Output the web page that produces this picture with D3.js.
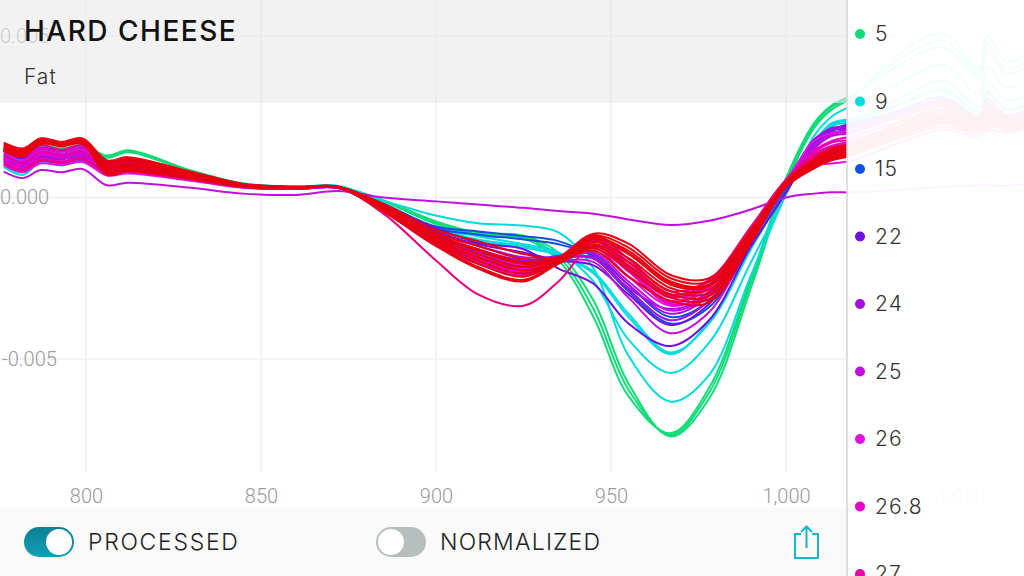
<!DOCTYPE html>
<html><head><meta charset="utf-8">
<script src="https://cdnjs.cloudflare.com/ajax/libs/d3/7.8.5/d3.min.js"></script>
<style>html,body{margin:0;padding:0;background:#fff;overflow:hidden}svg{display:block}</style>
</head><body><svg id="c" width="1024" height="576"></svg>
<script>
const title = "HARD CHEESE", subtitle = "Fat";
const toggleLabels = ["PROCESSED", "NORMALIZED"];
const legendLabels = ["5","9","15","22","24","25","26","26.8","27"];
const legendColors = ["#0fdc78","#00dcdc","#1050e0","#7010e0","#a010e0","#c010e0","#e010e0","#e800c8","#e800a8"];
const xTicks = [800,850,900,950,1000,1050];
const yTicks = [0.005,0,-0.005];
const wavelengths = [776.5,782,787,793,799,806,812,830,845,860,872,885,900,912,925,935,945,955,967,978,990,1000,1008,1013,1019,1030,1045,1055,1057.5,1063,1072];
// absorbance values, in thousandths
const g1=[1.55,1.30,1.60,1.52,1.62,1.30,1.46,.84,.43,.33,.34,-.09,-.74,-1.09,-1.18,-1.71,-3.19,-5.76,-7.40,-6.23,-2.79,.40,2.15,2.72,3.10,4.25,5.08,4.0,5.0,4.2,4.6];
const g2=[1.50,1.25,1.56,1.48,1.58,1.26,1.43,.82,.42,.33,.34,-.11,-.78,-1.14,-1.22,-1.83,-3.45,-5.95,-7.35,-6.05,-2.62,.50,2.22,2.8,3.14,4.1,4.85,3.85,4.75,4.0,4.4];
const g3=[1.46,1.22,1.53,1.45,1.55,1.23,1.40,.80,.41,.32,.33,-.12,-.82,-1.18,-1.26,-1.95,-3.7,-6.15,-7.30,-5.9,-2.5,.6,2.3,2.85,3.18,3.95,4.65,3.7,4.55,3.85,4.25];
const c1=[.95,.70,1.10,1.0,1.12,.72,.82,.58,.35,.30,.34,-.10,-.56,-.80,-.87,-1.08,-2.2,-4.9,-6.32,-5.5,-2.4,.1,1.9,2.5,2.85,3.4,4.1,3.2,4.05,3.4,3.75];
const c2=[1.0,.78,1.2,1.1,1.2,.8,.9,.62,.38,.31,.34,-.2,-.95,-1.2,-1.45,-1.7,-2.6,-4.4,-5.43,-4.5,-2.0,.1,1.7,2.3,2.45,2.95,3.6,2.8,3.55,3.0,3.3];
const c3=[1.25,1.0,1.35,1.3,1.4,.95,1.0,.72,.42,.33,.36,-.18,-.95,-1.3,-1.5,-1.75,-2.3,-3.6,-4.8,-3.9,-1.6,.25,1.6,2.2,2.35,2.75,3.3,2.6,3.25,2.7,3.0];
const c4=[1.3,1.05,1.42,1.35,1.45,1.0,1.05,.75,.43,.33,.36,-.2,-1.0,-1.35,-1.55,-1.8,-2.35,-3.7,-4.85,-3.85,-1.55,.3,1.65,2.25,2.4,2.8,3.35,2.65,3.3,2.75,3.05];
const b1=[1.15,.9,1.2,1.18,1.28,.82,.9,.62,.36,.3,.33,-.2,-.9,-1.05,-1.2,-1.35,-1.85,-2.9,-3.9,-3.4,-1.5,.2,1.6,2.05,2.25,2.6,3.1,2.5,3.05,2.55,2.85];
const b2=[1.3,1.05,1.3,1.25,1.35,.9,.95,.68,.38,.3,.33,-.22,-.95,-1.15,-1.3,-1.45,-1.8,-2.7,-3.7,-3.2,-1.35,.3,1.55,1.95,2.15,2.5,3.0,2.45,2.95,2.5,2.8];
const v1=[1.2,.95,1.25,1.2,1.3,.85,.95,.66,.37,.28,.31,-.25,-.95,-1.4,-1.6,-2.2,-2.67,-3.9,-4.6,-3.8,-1.5,.15,1.55,2.1,2.1,2.45,2.95,2.4,2.9,2.45,2.75];
const v2=[1.45,1.2,1.5,1.35,1.5,1.0,1.1,.7,.38,.28,.31,-.25,-1.05,-1.45,-1.7,-1.95,-2.1,-3.0,-3.95,-3.3,-1.25,.35,1.7,2.1,2.3,2.6,3.1,2.5,3.05,2.55,2.85];
const a1=[1.35,1.1,1.42,1.32,1.45,.95,1.05,.7,.38,.28,.31,-.3,-1.1,-1.5,-1.85,-1.85,-1.9,-2.85,-3.8,-3.2,-1.2,.4,1.75,2.15,2.2,2.55,3.0,2.45,2.95,2.5,2.8];
const a2=[1.1,.88,1.15,1.1,1.2,.78,.85,.6,.35,.27,.3,-.3,-1.15,-1.6,-1.95,-1.8,-1.75,-2.7,-3.6,-3.05,-1.15,.42,1.8,2.1,2.15,2.5,2.95,2.4,2.9,2.45,2.75];
const a3=[1.5,1.25,1.55,1.42,1.55,1.05,1.12,.72,.38,.28,.31,-.3,-1.2,-1.7,-2.0,-1.9,-1.85,-2.8,-3.45,-2.95,-1.1,.45,1.7,2.0,2.1,2.45,2.9,2.35,2.85,2.4,2.7];
const f1=[.8,.6,.85,.78,.88,.38,.46,.3,.12,.08,.2,.0,-.12,-.22,-.32,-.42,-.5,-.68,-.85,-.72,-.37,.0,.12,.16,.16,.22,.33,.38,.38,.36,.45];
const p1=[1.05,.82,1.12,1.05,1.15,.72,.8,.56,.32,.26,.29,-.32,-1.2,-1.65,-2.0,-1.95,-2.0,-3.1,-4.2,-3.55,-1.35,.35,1.5,1.9,2.0,2.4,2.85,2.3,2.8,2.35,2.65];
const p2=[1.2,1.0,1.3,1.2,1.32,.85,.92,.62,.34,.27,.3,-.32,-1.25,-1.75,-2.05,-1.9,-1.7,-2.6,-3.5,-3.0,-1.1,.45,1.6,1.95,2.05,2.4,2.85,2.3,2.8,2.35,2.65];
const m1=[1.1,.9,1.18,1.1,1.22,.76,.83,.58,.34,.27,.3,-.35,-1.3,-1.8,-2.1,-1.95,-1.55,-2.45,-3.35,-2.9,-1.05,.5,1.75,2.0,2.1,2.45,2.85,2.3,2.8,2.35,2.65];
const m2=[1.4,1.15,1.45,1.35,1.48,.98,1.05,.68,.36,.27,.3,-.35,-1.35,-1.85,-2.2,-1.95,-1.45,-2.3,-3.25,-2.8,-1.0,.5,1.3,1.5,1.65,2.0,2.4,2.05,2.4,2.1,2.4];
const m3=[1.0,.78,1.05,1.0,1.1,.68,.74,.52,.3,.26,.3,-.38,-1.4,-1.9,-2.25,-1.9,-1.35,-2.2,-3.2,-2.75,-.95,.52,1.0,1.05,1.15,1.6,2.1,1.9,2.1,2.0,2.25];
const n1=[1.25,1.0,1.35,1.25,1.38,.88,.95,.62,.34,.27,.3,-.38,-1.35,-1.9,-2.3,-1.95,-1.3,-2.15,-3.1,-2.7,-.95,.5,1.35,1.6,1.75,2.1,2.5,2.1,2.5,2.15,2.45];
const n2=[1.48,1.25,1.52,1.42,1.55,1.02,1.1,.7,.36,.28,.31,-.4,-1.45,-1.95,-2.3,-1.9,-1.2,-2.0,-3.0,-2.6,-.95,.55,1.45,1.75,1.9,2.25,2.65,2.2,2.6,2.25,2.55];
const n3=[1.15,.92,1.22,1.12,1.25,.8,.86,.58,.32,.27,.31,-.4,-1.4,-2.0,-2.35,-1.95,-1.25,-2.25,-3.3,-2.95,-1.15,.42,1.25,1.5,1.65,2.0,2.4,2.05,2.4,2.1,2.4];
const o1=[1.3,1.08,1.4,1.3,1.42,.92,1.0,.64,.35,.28,.31,-.42,-1.5,-2.05,-2.4,-1.95,-1.25,-2.1,-3.05,-2.75,-1.0,.5,1.4,1.7,1.8,2.15,2.55,2.15,2.5,2.2,2.5];
const o2=[1.05,.85,1.15,1.08,1.2,.75,.8,.55,.32,.27,.31,-.5,-1.95,-3.0,-3.35,-2.6,-1.5,-2.2,-3.0,-2.7,-1.0,.45,1.2,1.45,1.6,1.95,2.35,2.0,2.35,2.05,2.35];
const o3=[1.55,1.35,1.62,1.48,1.62,1.08,1.18,.72,.37,.28,.31,-.42,-1.35,-1.85,-2.15,-1.85,-1.15,-1.9,-2.9,-2.55,-.9,.55,1.3,1.55,1.7,2.05,2.45,2.1,2.45,2.1,2.4];
const r1=[1.67,1.5,1.83,1.72,1.83,1.15,1.25,.8,.42,.33,.33,-.2,-1.0,-1.35,-1.75,-1.85,-1.12,-1.43,-2.4,-2.5,-1.0,.5,1.2,1.5,1.67,2.2,3.0,2.5,2.9,2.5,2.8];
const r2=[1.62,1.45,1.80,1.70,1.80,1.05,1.18,.76,.41,.33,.33,-.25,-1.1,-1.5,-1.9,-1.85,-1.18,-1.55,-2.5,-2.6,-1.05,.48,1.15,1.45,1.6,2.1,2.85,2.4,2.8,2.4,2.7];
const r3=[1.58,1.42,1.78,1.68,1.78,.98,1.12,.74,.40,.32,.33,-.3,-1.2,-1.65,-2.05,-1.9,-1.25,-1.65,-2.6,-2.7,-1.1,.45,1.1,1.4,1.55,2.05,2.75,2.35,2.7,2.35,2.65];
const r4=[1.55,1.38,1.75,1.66,1.75,.92,1.05,.72,.38,.31,.33,-.32,-1.25,-1.75,-2.15,-1.9,-1.3,-1.75,-2.7,-2.75,-1.15,.42,1.05,1.35,1.5,2.0,2.65,2.3,2.6,2.3,2.6];
const r5=[1.52,1.35,1.73,1.64,1.73,.86,1.0,.7,.37,.3,.32,-.35,-1.3,-1.85,-2.25,-1.95,-1.38,-1.88,-2.8,-2.85,-1.2,.4,1.0,1.3,1.45,1.95,2.55,2.25,2.5,2.25,2.55];
const r6=[1.5,1.32,1.7,1.62,1.71,.8,.95,.68,.36,.3,.32,-.38,-1.35,-1.95,-2.35,-1.98,-1.45,-2.0,-2.9,-2.95,-1.25,.38,.98,1.25,1.42,1.9,2.45,2.2,2.45,2.2,2.5];
const r7=[1.48,1.3,1.68,1.6,1.69,.76,.9,.65,.35,.29,.32,-.4,-1.4,-2.05,-2.45,-2.0,-1.52,-2.12,-3.0,-3.05,-1.3,.36,.95,1.22,1.38,1.85,2.35,2.15,2.35,2.2,2.45];
const r8=[1.46,1.28,1.68,1.58,1.67,.72,.86,.62,.34,.29,.32,-.42,-1.45,-2.15,-2.55,-2.02,-1.58,-2.25,-3.1,-3.15,-1.35,.34,.92,1.18,1.34,1.8,2.3,2.1,2.3,2.15,2.4];
const r9=[1.44,1.26,1.66,1.6,1.68,.7,.82,.58,.33,.28,.32,-.44,-1.5,-2.2,-2.6,-2.05,-1.65,-2.45,-3.2,-3.25,-1.4,.32,.9,1.15,1.3,1.75,2.2,2.0,2.2,2.15,2.35];
const r10=[1.7,1.52,1.82,1.7,1.82,1.1,1.2,.78,.41,.32,.33,-.28,-1.15,-1.6,-2.0,-1.88,-1.22,-1.72,-2.65,-2.72,-1.12,.44,1.08,1.38,1.52,2.0,2.7,2.3,2.65,2.3,2.6];
const seriesLabels = [g1,g2,g3].map(()=>"5").concat([c1,c2,c3,c4].map(()=>"9"),[b1,b2].map(()=>"15"),[v1,v2].map(()=>"22"),[a1,a2,a3].map(()=>"24"),[f1,p1,p2].map(()=>"25"),[m1,m2,m3].map(()=>"26"),[n1,n2,n3].map(()=>"26.8"),[o1].map(()=>"27"));
const pinkCurves = [o2,o3], redCurves = [r1,r2,r3,r4,r5,r6,r7,r8,r9,r10];
const mainCurves = [g1,g2,g3,c1,c2,c3,c4,b1,b2,v1,v2,a1,a2,a3,f1,p1,p2,m1,m2,m3,n1,n2,n3,o1];
const pinkColor = "#e6007a", redColor = "#e60012";

const svg = d3.select("#c");
const x = d3.scaleLinear().domain([800,1050]).range([86,961]);
const y = d3.scaleLinear().domain([0.005,-0.005]).range([36,359]);
const FONT = "Roboto, sans-serif";

// grid
svg.append("g").selectAll("line").data(xTicks).join("line")
  .attr("x1",d=>x(d)).attr("x2",d=>x(d)).attr("y1",0).attr("y2",472)
  .attr("stroke","#f3f3f3").attr("stroke-width",2);
svg.append("g").selectAll("line").data(yTicks).join("line")
  .attr("x1",0).attr("x2",1024).attr("y1",d=>y(d)).attr("y2",d=>y(d))
  .attr("stroke","#f3f3f3").attr("stroke-width",2);

// axes (labels only)
const axB = svg.append("g").attr("transform","translate(0,486)")
  .call(d3.axisBottom(x).tickValues(xTicks).tickSize(0).tickPadding(3).tickFormat(d3.format(",")));
const axL = svg.append("g")
  .call(d3.axisLeft(y).tickValues(yTicks).tickSize(0).tickFormat(d=>d3.format(".3f")(d).replace("\u2212","-")));
axB.select(".domain").remove(); axL.select(".domain").remove();
[axB,axL].forEach(a=>a.selectAll("text").attr("font-family",FONT).attr("font-weight",300).attr("font-size",20).attr("fill","#999"));
axL.selectAll("text").attr("text-anchor","start").attr("x",d=>d<0?2:0).attr("dy","0.32em");

// curves
const line = d3.line().x((d,i)=>x(wavelengths[i])).y(d=>y(d/1000)).curve(d3.curveCatmullRom.alpha(0.5));
const colorOf = d3.scaleOrdinal().domain(legendLabels).range(legendColors);
const curves = mainCurves.map((v,i)=>({v,c:colorOf(seriesLabels[i])}))
  .concat(pinkCurves.map(v=>({v,c:pinkColor})), redCurves.map(v=>({v,c:redColor})));
svg.append("g").attr("fill","none").attr("stroke-width",2).attr("stroke-linejoin","round")
  .selectAll("path").data(curves).join("path")
  .attr("d",d=>line(d.v)).attr("stroke",d=>d.c);

// header
svg.append("rect").attr("x",0).attr("y",0).attr("width",847).attr("height",103).attr("fill","#e9e9e9").attr("fill-opacity",0.6);
svg.append("text").attr("x",24).attr("y",41).text(title).attr("font-family","Inter, sans-serif").attr("font-weight",500).attr("font-size",28).attr("letter-spacing",1.5).attr("fill","#111");
svg.append("text").attr("x",24).attr("y",84).text(subtitle).attr("font-family","Inter, sans-serif").attr("font-weight",300).attr("font-size",21).attr("letter-spacing",1).attr("fill","#333");

// footer
svg.append("rect").attr("x",0).attr("y",508).attr("width",847).attr("height",68).attr("fill","#fafafa");
const defs = svg.append("defs");
const grad = defs.append("linearGradient").attr("id","tg").attr("x1",0).attr("y1",0).attr("x2",0).attr("y2",1);
grad.append("stop").attr("offset",0).attr("stop-color","#0c7f92");
grad.append("stop").attr("offset",1).attr("stop-color","#11a0b8");
const toggles = [{x:24,on:true},{x:376,on:false}];
toggles.forEach((t,i)=>{
  svg.append("rect").attr("x",t.x).attr("y",527).attr("width",50).attr("height",30).attr("rx",15)
    .attr("fill",t.on?"url(#tg)":"#b6bfbd");
  svg.append("circle").attr("cx",t.on?t.x+35:t.x+15).attr("cy",542).attr("r",13).attr("fill","#fff");
  svg.append("text").attr("x",t.x+64).attr("y",550).text(toggleLabels[i])
    .attr("font-family","Inter, sans-serif").attr("font-weight",300).attr("font-size",23).attr("letter-spacing",i?1.2:1.7).attr("fill","#222");
});
// share icon
const icon = svg.append("g").attr("fill","none").attr("stroke","#1fb2cc").attr("stroke-width",2);
icon.append("path").attr("d","M801 534H795V558H818V534H812");
icon.append("path").attr("d","M806.5 548V527M801 532L806.5 526.5L812 532");

// legend panel
svg.append("rect").attr("x",847).attr("y",0).attr("width",177).attr("height",576).attr("fill","#fff").attr("fill-opacity",0.95);
svg.append("line").attr("x1",847).attr("x2",847).attr("y1",0).attr("y2",576).attr("stroke","#d4d4d4").attr("stroke-width",1.5);
const rowY = d3.scalePoint().domain(legendLabels).range([34,574]);
const rows = svg.append("g").selectAll("g").data(legendLabels).join("g").attr("transform",d=>`translate(0,${rowY(d)})`);
rows.append("circle").attr("cx",860).attr("cy",0).attr("r",5).attr("fill",d=>colorOf(d));
rows.append("text").attr("x",875).attr("y",7).text(d=>d).attr("font-family","Inter, sans-serif").attr("font-weight",300).attr("font-size",21).attr("letter-spacing",1.2).attr("fill","#333");
</script></body></html>
